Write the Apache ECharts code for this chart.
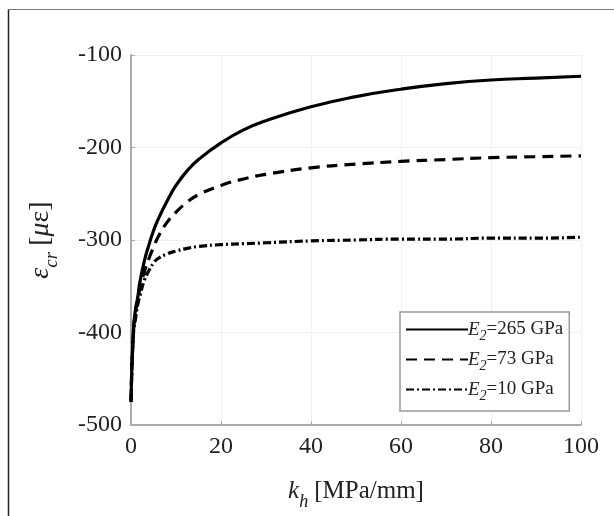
<!DOCTYPE html>
<html>
<head>
<meta charset="utf-8">
<script src="https://cdn.jsdelivr.net/npm/echarts@6/dist/echarts.min.js"></script>
<style>
  html, body { margin: 0; padding: 0; background: #fff; }
  #chart { width: 614px; height: 516px; }
</style>
</head>
<body>
<div id="chart"></div>
<script>
// stiffness k_h [MPa/mm]
const kh = [0, 0.5, 1, 1.5, 2, 3, 4, 5, 6, 8, 10, 12.5, 15, 20, 25, 30, 40, 50, 60, 70, 80, 90, 100]

// critical strain [microstrain] for each E2
const e265 = [-475, -400, -375, -362, -345, -322, -305, -290, -278, -258, -241, -225, -213, -195, -181, -171, -156, -145, -137, -131, -127, -125, -123]
const e73 = [-475, -402, -378, -365, -352, -334, -320, -308, -297, -281, -270, -259, -251, -241, -234, -229, -222, -218, -215, -213, -211, -210, -209]
const e10 = [-475, -405, -385, -370, -360, -343, -333, -325, -320, -315, -312, -309, -307, -305, -304, -303, -301, -300, -299, -299, -298, -298, -297]

const seriesNames = ['265', '73', '10']

const chart = echarts.init(document.getElementById('chart'))

const serif = 'Liberation Serif'
const ink = '#222'

const pairs = (ys) => kh.map((k, i) => [k, ys[i]])

const lineSeries = (name, ys, dash) => ({
  name: name,
  type: 'line',
  data: pairs(ys),
  smooth: true,
  showSymbol: false,
  symbol: 'none',
  lineStyle: { color: '#000', width: 3.2, type: dash },
  itemStyle: { color: '#000' }
})

// rich styles for axis names (italic symbol + lowered subscript)
const nameRich = (big, small) => ({
  i: { fontFamily: serif, fontStyle: 'italic', fontSize: big, color: ink, lineHeight: 40, verticalAlign: 'middle' },
  s: { fontFamily: serif, fontStyle: 'italic', fontSize: small, color: ink, lineHeight: 40, verticalAlign: 'bottom' },
  n: { fontFamily: serif, fontSize: big, color: ink, lineHeight: 40, verticalAlign: 'middle' }
})

const option = {
  animation: false,
  backgroundColor: '#fff',
  grid: { left: 131, right: 33, top: 55, bottom: 88 },
  xAxis: {
    type: 'value',
    min: 0,
    max: 100,
    interval: 20,
    name: '{i|k}{s|h}  {n|[MPa/mm]}',
    nameLocation: 'middle',
    nameGap: 46,
    nameTextStyle: { fontFamily: serif, rich: nameRich(25, 18) },
    axisLine: { lineStyle: { color: '#aaa', width: 2 } },
    axisTick: { inside: true, length: 4, lineStyle: { color: '#aaa' } },
    axisLabel: { fontFamily: serif, fontSize: 24, color: ink, margin: 10 },
    splitLine: { show: true, lineStyle: { color: '#f0f0f0', width: 1 } }
  },
  yAxis: {
    type: 'value',
    min: -500,
    max: -100,
    interval: 100,
    name: '{i|ε}{s|cr}  {n|[}{i|μ}{n|ε]}',
    nameLocation: 'middle',
    nameGap: 70,
    nameTextStyle: { fontFamily: serif, rich: nameRich(28, 19) },
    axisLine: { show: true, lineStyle: { color: '#aaa', width: 2 } },
    axisTick: { show: true, inside: true, length: 4, lineStyle: { color: '#aaa' } },
    axisLabel: { fontFamily: serif, fontSize: 24, color: ink, margin: 9 },
    splitLine: { show: true, lineStyle: { color: '#f0f0f0', width: 1 } }
  },
  legend: {
    orient: 'vertical',
    left: 400,
    top: 312,
    padding: [8, 6, 8, 5],
    itemGap: 7,
    itemWidth: 62,
    itemHeight: 3,
    backgroundColor: '#fff',
    borderColor: '#999',
    borderWidth: 1.5,
    data: seriesNames,
    itemStyle: { color: 'transparent', borderWidth: 0 },
    formatter: (name) => '{i|E}{s|2}{n|=' + name + ' GPa}',
    textStyle: {
      padding: [0, 0, 0, -5],
      rich: {
        i: { fontFamily: serif, fontStyle: 'italic', fontSize: 19, color: ink, lineHeight: 27, verticalAlign: 'middle' },
        s: { fontFamily: serif, fontStyle: 'italic', fontSize: 14, color: ink, lineHeight: 27, verticalAlign: 'bottom' },
        n: { fontFamily: serif, fontSize: 19, color: ink, lineHeight: 27, verticalAlign: 'middle' }
      }
    }
  },
  graphic: [
    { type: 'line', shape: { x1: 8.5, y1: 9.5, x2: 614, y2: 9.5 }, style: { stroke: '#777', lineWidth: 1 }, silent: true },
    { type: 'line', shape: { x1: 8.5, y1: 9.5, x2: 8.5, y2: 516 }, style: { stroke: '#222', lineWidth: 1.5 }, silent: true }
  ],
  series: [
    lineSeries(seriesNames[0], e265, 'solid'),
    lineSeries(seriesNames[1], e73, [11, 7]),
    lineSeries(seriesNames[2], e10, [8, 3, 2, 3])
  ]
}

chart.setOption(option)
</script>
</body>
</html>
